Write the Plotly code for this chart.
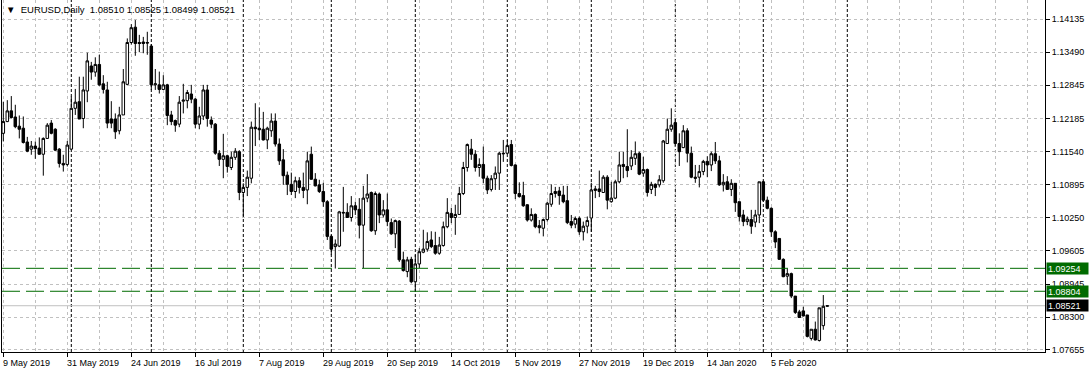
import pandas as pd
import plotly.graph_objects as go

# ---------------- data ----------------
symbol_title = "EURUSD,Daily"
first_date = "2019-05-09"
market_holidays = ["2019-12-25", "2020-01-01"]

open_ = [
    1.1190, 1.1213, 1.1234, 1.1222, 1.1204, 1.1200, 1.1173, 1.1159, 1.1165, 1.1161,
    1.1149, 1.1180, 1.1210, 1.1198, 1.1159, 1.1131, 1.1129, 1.1159, 1.1239, 1.1252,
    1.1219, 1.1273, 1.1322, 1.1310, 1.1325, 1.1287, 1.1275, 1.1218, 1.1218, 1.1195,
    1.1226, 1.1286, 1.1368, 1.1398, 1.1368, 1.1369, 1.1368, 1.1361, 1.1285, 1.1285,
    1.1276, 1.1285, 1.1226, 1.1215, 1.1208, 1.1253, 1.1254, 1.1267, 1.1257, 1.1208,
    1.1224, 1.1275, 1.1216, 1.1208, 1.1151, 1.1139, 1.1146, 1.1123, 1.1143, 1.1154,
    1.1074, 1.1084, 1.1102, 1.1202, 1.1200, 1.1198, 1.1177, 1.1195, 1.1214, 1.1169,
    1.1138, 1.1108, 1.1090, 1.1076, 1.1097, 1.1084, 1.1079, 1.1149, 1.1100, 1.1089,
    1.1076, 1.1056, 1.0988, 1.0968, 1.0969, 1.1035, 1.1035, 1.1025, 1.1048, 1.1041,
    1.1010, 1.1063, 1.1074, 1.0999, 1.1071, 1.1030, 1.1040, 1.1015, 1.0993, 1.1018,
    1.0942, 1.0919, 1.0943, 1.0899, 1.0934, 1.0957, 1.0963, 1.0981, 1.0970, 1.0955,
    1.0970, 1.1007, 1.1033, 1.1025, 1.1031, 1.1072, 1.1123, 1.1159, 1.1149, 1.1123,
    1.1129, 1.1102, 1.1080, 1.1101, 1.1112, 1.1151, 1.1151, 1.1168, 1.1128, 1.1072,
    1.1068, 1.1050, 1.1020, 1.1031, 1.1009, 1.1004, 1.1021, 1.1051, 1.1072, 1.1077,
    1.1069, 1.1058, 1.1017, 1.1012, 1.1023, 1.0997, 1.1008, 1.1024, 1.1078, 1.1081,
    1.1074, 1.1104, 1.1056, 1.1063, 1.1095, 1.1129, 1.1125, 1.1126, 1.1141, 1.1151,
    1.1112, 1.1119, 1.1080, 1.1090, 1.1089, 1.1097, 1.1170, 1.1198, 1.1211, 1.1170,
    1.1162, 1.1195, 1.1151, 1.1104, 1.1104, 1.1115, 1.1135, 1.1128, 1.1150, 1.1136,
    1.1089, 1.1095, 1.1080, 1.1092, 1.1056, 1.1030, 1.1017, 1.1021, 1.1016, 1.1030,
    1.1095, 1.1059, 1.1043, 1.0997, 1.0984, 1.0943, 1.0910, 1.0915, 1.0871, 1.0840,
    1.0842, 1.0834, 1.0788, 1.0806, 1.0784, 1.0813, 1.08510,
]
high = [
    1.1252, 1.1255, 1.1263, 1.1246, 1.1225, 1.1223, 1.1183, 1.1175, 1.1174, 1.1182,
    1.1182, 1.1210, 1.1216, 1.1200, 1.1161, 1.1148, 1.1175, 1.1262, 1.1277, 1.1301,
    1.1301, 1.1348, 1.1330, 1.1339, 1.1344, 1.1304, 1.1291, 1.1253, 1.1229, 1.1242,
    1.1316, 1.1376, 1.1404, 1.1412, 1.1383, 1.1379, 1.1389, 1.1365, 1.1316, 1.1311,
    1.1304, 1.1287, 1.1234, 1.1217, 1.1263, 1.1287, 1.1275, 1.1285, 1.1259, 1.1242,
    1.1285, 1.1285, 1.1223, 1.1210, 1.1157, 1.1189, 1.1148, 1.1154, 1.1161, 1.1157,
    1.1092, 1.1117, 1.1213, 1.1249, 1.1241, 1.1232, 1.1203, 1.1229, 1.1229, 1.1180,
    1.1159, 1.1115, 1.1113, 1.1105, 1.1104, 1.1113, 1.1154, 1.1164, 1.1112, 1.1099,
    1.1093, 1.1059, 1.0991, 1.0982, 1.1038, 1.1085, 1.1053, 1.1067, 1.1056, 1.1063,
    1.1087, 1.1110, 1.1076, 1.1076, 1.1074, 1.1059, 1.1072, 1.1023, 1.1021, 1.1020,
    1.0958, 1.0948, 1.0948, 1.0952, 1.0965, 1.1001, 1.0996, 1.0998, 1.0997, 1.0987,
    1.1017, 1.1063, 1.1044, 1.1050, 1.1085, 1.1134, 1.1170, 1.1179, 1.1157, 1.1141,
    1.1164, 1.1107, 1.1108, 1.1125, 1.1154, 1.1177, 1.1177, 1.1177, 1.1129, 1.1094,
    1.1095, 1.1051, 1.1043, 1.1033, 1.1020, 1.1023, 1.1056, 1.1090, 1.1085, 1.1085,
    1.1087, 1.1087, 1.1030, 1.1027, 1.1027, 1.1017, 1.1027, 1.1093, 1.1087, 1.1117,
    1.1108, 1.1108, 1.1095, 1.1099, 1.1154, 1.1154, 1.1198, 1.1157, 1.1174, 1.1154,
    1.1144, 1.1121, 1.1095, 1.1092, 1.1108, 1.1177, 1.1219, 1.1239, 1.1219, 1.1190,
    1.1206, 1.1200, 1.1164, 1.1128, 1.1128, 1.1138, 1.1145, 1.1154, 1.1173, 1.1146,
    1.1110, 1.1106, 1.1100, 1.1092, 1.1056, 1.1040, 1.1027, 1.1040, 1.1040, 1.1095,
    1.1097, 1.1066, 1.1045, 1.1000, 1.0984, 1.0945, 1.0925, 1.0917, 1.0871, 1.0844,
    1.0850, 1.0834, 1.0806, 1.0821, 1.0848, 1.0873, 1.08525,
]
low = [
    1.1174, 1.1212, 1.1219, 1.1200, 1.1180, 1.1170, 1.1153, 1.1148, 1.1140, 1.1148,
    1.1107, 1.1179, 1.1188, 1.1155, 1.1123, 1.1115, 1.1125, 1.1158, 1.1226, 1.1218,
    1.1200, 1.1251, 1.1295, 1.1301, 1.1283, 1.1268, 1.1200, 1.1200, 1.1179, 1.1188,
    1.1226, 1.1284, 1.1364, 1.1342, 1.1349, 1.1347, 1.1344, 1.1275, 1.1275, 1.1268,
    1.1275, 1.1206, 1.1206, 1.1193, 1.1202, 1.1229, 1.1239, 1.1249, 1.1200, 1.1198,
    1.1216, 1.1203, 1.1200, 1.1148, 1.1126, 1.1102, 1.1113, 1.1118, 1.1138, 1.1059,
    1.1027, 1.1067, 1.1092, 1.1165, 1.1177, 1.1176, 1.1159, 1.1183, 1.1164, 1.1128,
    1.1089, 1.1069, 1.1069, 1.1063, 1.1072, 1.1063, 1.1051, 1.1099, 1.1086, 1.1073,
    1.1046, 1.0981, 1.0952, 1.0925, 1.0967, 1.0997, 1.1025, 1.1017, 1.1030, 1.0984,
    1.0926, 1.1055, 1.0997, 1.0991, 1.1014, 1.1025, 1.1008, 1.0991, 1.0965, 1.0938,
    1.0919, 1.0908, 1.0896, 1.0880, 1.0926, 1.0955, 1.0958, 1.0965, 1.0952, 1.0952,
    1.0968, 1.1004, 1.1014, 1.0991, 1.1030, 1.1069, 1.1115, 1.1138, 1.1115, 1.1105,
    1.1092, 1.1071, 1.1076, 1.1079, 1.1079, 1.1134, 1.1149, 1.1125, 1.1061, 1.1064,
    1.1046, 1.1017, 1.1017, 1.1004, 1.0994, 1.0988, 1.1017, 1.1046, 1.1064, 1.1050,
    1.1053, 1.1012, 1.1004, 1.1004, 1.0991, 1.0980, 1.0994, 1.0997, 1.1063, 1.1065,
    1.1073, 1.1041, 1.1054, 1.1061, 1.1092, 1.1102, 1.1104, 1.1118, 1.1128, 1.1108,
    1.1105, 1.1066, 1.1071, 1.1067, 1.1084, 1.1093, 1.1169, 1.1193, 1.1164, 1.1126,
    1.1161, 1.1133, 1.1102, 1.1093, 1.1084, 1.1108, 1.1104, 1.1116, 1.1130, 1.1087,
    1.1076, 1.1079, 1.1067, 1.1036, 1.1017, 1.1008, 1.1010, 1.0993, 1.1006, 1.1014,
    1.1056, 1.1041, 1.0987, 1.0965, 1.0942, 1.0908, 1.0893, 1.0867, 1.0836, 1.0828,
    1.0831, 1.0790, 1.0784, 1.0784, 1.0782, 1.0805, 1.08499,
]
close = [
    1.1213, 1.1234, 1.1221, 1.1203, 1.1198, 1.1172, 1.1155, 1.1165, 1.1160, 1.1149,
    1.1180, 1.1206, 1.1190, 1.1157, 1.1131, 1.1128, 1.1167, 1.1239, 1.1251, 1.1218,
    1.1275, 1.1332, 1.1310, 1.1325, 1.1285, 1.1276, 1.1210, 1.1210, 1.1193, 1.1226,
    1.1291, 1.1368, 1.1397, 1.1366, 1.1366, 1.1366, 1.1367, 1.1285, 1.1287, 1.1276,
    1.1285, 1.1225, 1.1213, 1.1206, 1.1251, 1.1255, 1.1270, 1.1257, 1.1208, 1.1224,
    1.1275, 1.1219, 1.1208, 1.1151, 1.1139, 1.1146, 1.1125, 1.1143, 1.1155, 1.1074,
    1.1084, 1.1104, 1.1202, 1.1199, 1.1197, 1.1177, 1.1200, 1.1214, 1.1169, 1.1136,
    1.1107, 1.1090, 1.1076, 1.1097, 1.1084, 1.1078, 1.1136, 1.1100, 1.1087, 1.1076,
    1.1056, 1.0988, 1.0963, 1.0973, 1.1036, 1.1034, 1.1025, 1.1048, 1.1040, 1.1010,
    1.1063, 1.1071, 1.0999, 1.1072, 1.1030, 1.1040, 1.1017, 1.0993, 1.1019, 1.0942,
    1.0921, 1.0942, 1.0899, 1.0934, 1.0958, 1.0963, 1.0978, 1.0968, 1.0955, 1.0971,
    1.1007, 1.1035, 1.1025, 1.1031, 1.1072, 1.1123, 1.1168, 1.1149, 1.1123, 1.1129,
    1.1102, 1.1079, 1.1101, 1.1112, 1.1151, 1.1150, 1.1166, 1.1127, 1.1072, 1.1066,
    1.1048, 1.1020, 1.1031, 1.1007, 1.1005, 1.1021, 1.1053, 1.1072, 1.1076, 1.1068,
    1.1056, 1.1015, 1.1010, 1.1023, 1.0997, 1.1008, 1.1019, 1.1079, 1.1081, 1.1076,
    1.1104, 1.1059, 1.1063, 1.1095, 1.1128, 1.1125, 1.1117, 1.1143, 1.1150, 1.1110,
    1.1119, 1.1074, 1.1090, 1.1084, 1.1099, 1.1175, 1.1198, 1.1206, 1.1170, 1.1154,
    1.1195, 1.1151, 1.1104, 1.1102, 1.1115, 1.1135, 1.1128, 1.1150, 1.1136, 1.1089,
    1.1094, 1.1080, 1.1092, 1.1054, 1.1027, 1.1017, 1.1022, 1.1008, 1.1030, 1.1095,
    1.1059, 1.1043, 1.0997, 1.0977, 1.0943, 1.0909, 1.0915, 1.0871, 1.0839, 1.0829,
    1.0832, 1.0792, 1.0806, 1.0785, 1.0848, 1.0851, 1.08521,
]

price_ticks = [1.14135, 1.13490, 1.12845, 1.12185, 1.11540, 1.10895,
               1.10250, 1.09605, 1.08945, 1.08300, 1.07655]
green_levels = [1.09254, 1.08804]
bid_price = 1.08521
price_range = [1.07614, 1.14513]

# ---------------- derived ----------------
n = len(close)
dates = pd.bdate_range(first_date, periods=n, freq="C", holidays=market_holidays)
xs = list(range(n))
label_idx = list(range(0, n, 16))
label_text = [f"{dates[i].day} {dates[i].strftime('%b %Y')}" for i in label_idx]
sep_idx = [i for i in range(1, n) if dates[i].month != dates[i - 1].month]
next_month = dates[-1] + pd.offsets.MonthBegin(1)
sep_idx.append((n - 1) + (next_month - dates[-1]).days)

FONT = "Liberation Sans, Arial, DejaVu Sans, sans-serif"
GRID = "#c0c0c0"
GREEN = "#006b00"

fig = go.Figure()
fig.add_trace(go.Candlestick(
    x=xs, open=open_, high=high, low=low, close=close,
    increasing=dict(line=dict(color="black", width=1), fillcolor="white"),
    decreasing=dict(line=dict(color="black", width=1), fillcolor="black"),
    whiskerwidth=0, showlegend=False, hoverinfo="skip",
))

shapes = []
for i in sep_idx:
    shapes.append(dict(type="line", xref="x", yref="paper", x0=i, x1=i, y0=0, y1=1,
                       line=dict(color="black", width=1, dash="3px,2px"), layer="below"))
shapes.append(dict(type="line", xref="paper", yref="y", x0=0, x1=1, y0=bid_price, y1=bid_price,
                   line=dict(color=GRID, width=1), layer="below"))
for lv in green_levels:
    shapes.append(dict(type="line", xref="paper", yref="y", x0=0, x1=1, y0=lv, y1=lv,
                       line=dict(color=GREEN, width=1, dash="18px,6px"), layer="above"))

annotations = []
for i, t in zip(label_idx, label_text):
    annotations.append(dict(x=i, y=0, xref="x", yref="paper", text=t, showarrow=False,
                            xanchor="left", yanchor="top", yshift=-4, xshift=-2,
                            font=dict(family=FONT, size=9, color="black")))
for lv, col in [(green_levels[0], GREEN), (green_levels[1], GREEN), (bid_price, "black")]:
    annotations.append(dict(x=1, y=lv, xref="paper", yref="y", text=f"{lv:.5f}", showarrow=False,
                            xanchor="left", yanchor="middle", xshift=1, bgcolor=col,
                            width=39, height=9, align="left", borderpad=1,
                            font=dict(family=FONT, size=9, color="white")))
annotations.append(dict(x=0, y=1, xref="paper", yref="paper",
                        text="\u25bc\u00a0\u00a0" + symbol_title + "\u00a0\u00a0" +
                             " ".join(f"{v:.5f}" for v in (open_[-1], high[-1], low[-1], close[-1])),
                        showarrow=False, xanchor="left", yanchor="top", xshift=2, yshift=-2,
                        font=dict(family=FONT, size=9.5, color="black")))

fig.update_layout(
    width=1091, height=373,
    margin=dict(l=2, r=46, t=0, b=21),
    paper_bgcolor="white", plot_bgcolor="white",
    showlegend=False,
    boxgap=0.1,
    shapes=shapes, annotations=annotations,
    xaxis=dict(
        range=[-0.325, 260.425], rangeslider=dict(visible=False),
        tickmode="array", tickvals=label_idx, showticklabels=False,
        ticks="outside", ticklen=4, tickcolor="black",
        showgrid=True, gridcolor=GRID, griddash="3px,3px", gridwidth=1,
        minor=dict(tickmode="linear", tick0=0, dtick=8, showgrid=True,
                   gridcolor=GRID, griddash="3px,3px", gridwidth=1, ticks=""),
        showline=True, linecolor="black", linewidth=1, mirror=False, zeroline=False,
        fixedrange=True,
    ),
    yaxis=dict(
        side="right", range=price_range,
        tickmode="array", tickvals=price_ticks, ticktext=[f"{v:.5f}" for v in price_ticks],
        ticks="outside", ticklen=4, tickcolor="black",
        tickfont=dict(family=FONT, size=9, color="black"),
        showgrid=True, gridcolor=GRID, griddash="3px,3px", gridwidth=1,
        showline=True, linecolor="black", linewidth=1, mirror=True, zeroline=False,
    ),
)

fig.write_html("out.html")
